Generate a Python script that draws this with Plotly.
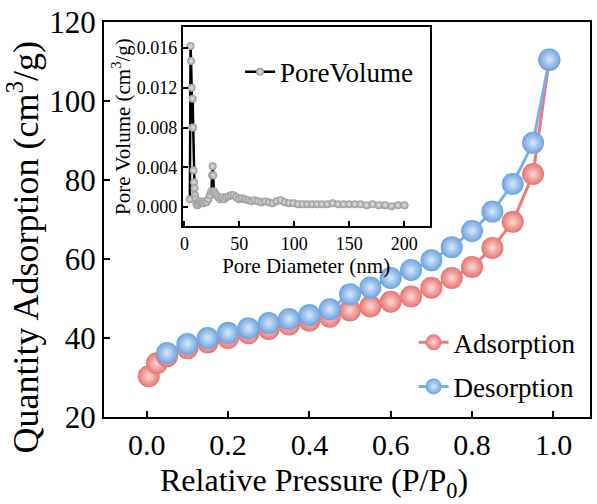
import plotly.graph_objects as go

# ---- main isotherm data ----
p_ads = [0.005, 0.025, 0.05, 0.10, 0.15, 0.20, 0.25, 0.30, 0.35, 0.40, 0.45, 0.50,
         0.55, 0.60, 0.65, 0.70, 0.75, 0.80, 0.85, 0.90, 0.95, 0.99]
q_ads = [30.3, 33.6, 35.4, 37.4, 38.9, 40.0, 41.2, 42.3, 43.4, 44.4, 45.4, 47.0,
         48.0, 49.2, 50.5, 52.7, 55.2, 58.0, 62.8, 69.4, 81.5, 110.4]
p_des = [0.05, 0.10, 0.15, 0.20, 0.25, 0.30, 0.35, 0.40, 0.45, 0.50, 0.55, 0.60,
         0.65, 0.70, 0.75, 0.80, 0.85, 0.90, 0.95, 0.99]
q_des = [36.2, 38.5, 40.0, 41.3, 42.5, 43.8, 44.8, 45.8, 47.3, 51.1, 52.8, 55.2,
         57.2, 59.7, 63.0, 67.1, 72.0, 79.0, 89.4, 110.5]

# ---- inset pore size distribution ----
pore_d = [5.0, 5.6, 6.1, 6.6, 7.1, 7.5, 7.9, 8.3, 8.8, 9.2, 9.7, 10.3, 11.0, 11.8,
          12.7, 13.7, 14.8, 16.0, 17.3, 18.7, 20.2, 21.8, 23.2, 24.5, 25.3, 25.7,
          26.2, 26.8, 27.8, 29.2, 30.8, 32.5, 34.3, 36.2, 38.2, 40.3, 42.5, 44.8,
          47.2, 49.7, 52.3, 55.0, 57.8, 60.7, 63.7, 66.8, 70.0, 73.3, 76.7, 80.2,
          83.8, 87.5, 91.3, 95.2, 99.2, 103.3, 107.5, 111.8, 116.2, 120.7, 125.3,
          130.0, 134.8, 139.7, 144.7, 149.8, 155.0, 160.3, 165.7, 171.2, 176.8,
          182.5, 188.3, 194.2, 200.2]
pore_v = [0.0008, 0.0162, 0.0147, 0.0120, 0.0080, 0.0109, 0.0080, 0.0037, 0.0025,
          0.0019, 0.0012, 0.0008, 0.0004, 0.0002, 0.0003, 0.0006, 0.0004, 0.0005,
          0.0004, 0.0006, 0.0005, 0.0008, 0.0012, 0.0016, 0.0032, 0.0041, 0.0032,
          0.0016, 0.0014, 0.0012, 0.0010, 0.0008, 0.0010, 0.0008, 0.0010, 0.0011,
          0.0012, 0.0012, 0.0010, 0.0008, 0.0009, 0.0008, 0.0007, 0.0006, 0.0007,
          0.0006, 0.0005, 0.0006, 0.0005, 0.0004, 0.0006, 0.0007, 0.0005, 0.0004,
          0.0004, 0.0003, 0.0003, 0.0003, 0.0003, 0.0003, 0.0003, 0.0003, 0.0004,
          0.0003, 0.0003, 0.0003, 0.0003, 0.0003, 0.0002, 0.0003, 0.0002, 0.0002,
          0.0001, 0.0002, 0.0002]

x_ticks = [0.0, 0.2, 0.4, 0.6, 0.8, 1.0]
y_ticks = [20, 40, 60, 80, 100, 120]
ix_ticks = [0, 50, 100, 150, 200]
iy_ticks = [0.000, 0.004, 0.008, 0.012, 0.016]

FONT = "'Liberation Serif', 'Times New Roman', Times, serif"

fig = go.Figure()
fig.add_trace(go.Scatter(
    x=p_ads, y=q_ads, name="Adsorption", mode="lines+markers",
    line=dict(color="#E97C7A", width=3),
    marker=dict(size=22, color="#E8726F", gradient=dict(type="radial", color="#FBD9D8")),
    legend="legend", legendgroup="a",
))
fig.add_trace(go.Scatter(
    x=p_des, y=q_des, name="Desorption", mode="lines+markers",
    line=dict(color="#7AAFE6", width=3),
    marker=dict(size=22, color="#6AA2E0", gradient=dict(type="radial", color="#D9E8F9")),
    legend="legend", legendgroup="d",
))
fig.add_trace(go.Scatter(
    x=pore_d, y=pore_v, name="PoreVolume", mode="lines+markers",
    xaxis="x2", yaxis="y2",
    line=dict(color="black", width=2.5),
    marker=dict(size=8, color="#999999", gradient=dict(type="radial", color="#E6E6E6")),
    legend="legend2",
))

axis_common = dict(showline=True, linecolor="black", linewidth=2, mirror=True,
                   ticks="inside", tickcolor="black", tickwidth=2, showgrid=False,
                   zeroline=False)

fig.update_layout(
    width=597, height=504,
    margin=dict(l=104, r=5, t=22, b=87),
    paper_bgcolor="white", plot_bgcolor="white",
    font=dict(family=FONT, color="black"),
    xaxis=dict(range=[-0.105, 1.09], tickvals=x_ticks, tickformat=".1f", ticklen=6,
               tickfont=dict(size=30), domain=[0, 1], **axis_common),
    yaxis=dict(range=[20, 120], tickvals=y_ticks, ticklen=6,
               tickfont=dict(size=31), domain=[0, 1], **axis_common),
    xaxis2=dict(range=[-1.5, 223], tickvals=ix_ticks, ticklen=5, anchor="y2",
                domain=[0.162, 0.670], tickfont=dict(size=18),
                title=dict(text="Pore Diameter (nm)", font=dict(size=21), standoff=2),
                **axis_common),
    yaxis2=dict(range=[-0.0019, 0.0181], tickvals=iy_ticks, tickformat=".3f", ticklen=5,
                anchor="x2", domain=[0.4835, 0.987], tickfont=dict(size=18),
                title=dict(text="Pore Volume (cm<sup>3</sup>/g)", font=dict(size=21), standoff=0),
                **axis_common),
    legend=dict(x=0.637, y=0.25, xanchor="left", yanchor="top", bgcolor="rgba(0,0,0,0)",
                font=dict(size=27), tracegroupgap=6, itemsizing="trace"),
    legend2=dict(x=0.28, y=0.935, xanchor="left", yanchor="top", bgcolor="rgba(0,0,0,0)",
                 font=dict(size=27)),
    annotations=[
        dict(text="Relative Pressure (P/P<sub>0</sub>)", xref="paper", yref="paper",
             x=0.432, y=-0.167, xanchor="center", yanchor="middle", showarrow=False,
             font=dict(size=32)),
        dict(text="Quantity Adsorption (cm<sup>3</sup>/g)", xref="paper", yref="paper",
             x=-0.166, y=0.43, xanchor="center", yanchor="middle", showarrow=False,
             textangle=-90, font=dict(size=36)),
    ],
)

fig.write_html("out.html")
